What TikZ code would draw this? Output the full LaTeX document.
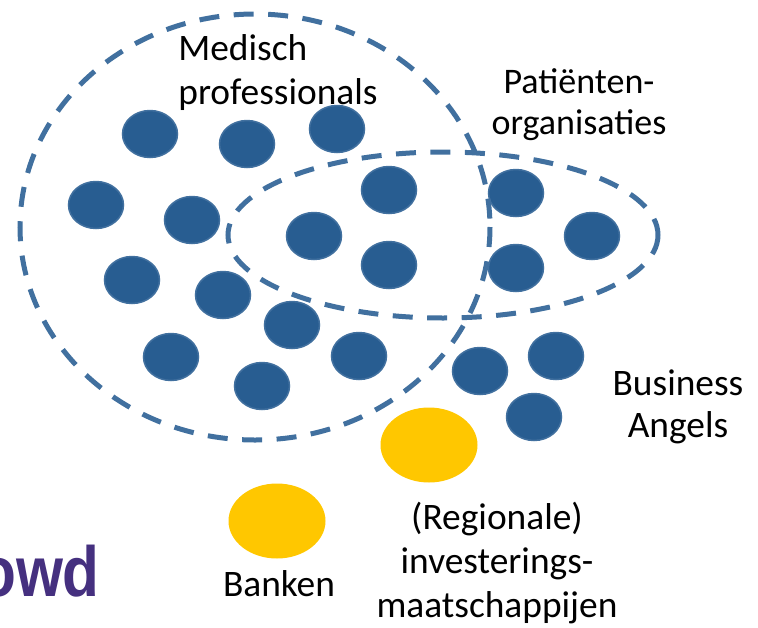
\documentclass[tikz,border=0pt]{standalone}
\usepackage{fontspec}
\setmainfont{Carlito}
\newfontfamily\logofont{Liberation Sans}
\definecolor{dotblue}{HTML}{285D91}
\definecolor{dotedge}{HTML}{41709F}
\definecolor{gold}{HTML}{FFC700}
\definecolor{logopurple}{HTML}{45307F}
\tikzset{
  dotnode/.style={ellipse,draw=dotedge,fill=dotblue,line width=1.5pt,minimum width=55pt,minimum height=47pt,inner sep=0pt},
  goldnode/.style={ellipse,fill=gold,minimum width=97pt,minimum height=75pt,inner sep=0pt},
  ring/.style={draw=dotedge,line width=5pt,dash pattern=on 20pt off 14.5pt},
  label/.style={align=center,font=\fontsize{37.4}{44}\selectfont,text=black,inner sep=0pt}
}
\usetikzlibrary{shapes.geometric}
\begin{document}
\begin{tikzpicture}[x=1pt,y=-1pt]
\useasboundingbox (0,0) rectangle (758,627);
\clip (0,0) rectangle (758,627);
\foreach \n/\x/\y in {a/150/134,b/247/144,c/337/129,d/96/205,e/192/220,f/389/190,g/314/236,h/389/265,i/516/193,j/592/236,k/516/268,l/132/280,m/223/295,n/292/325,o/171/357,p/262/386,q/359/356,r/480/371,s/556/356,t/534/417}
  \node[dotnode] (\n) at (\x,\y) {};
\draw[ring] (255,227) ellipse [x radius=235,y radius=213];
\draw[ring] (443,235) ellipse [x radius=215,y radius=83];
\node[goldnode] (inv) at (429,445) {};
\node[goldnode] (bank) at (277,521) {};
\node[label,align=left] (med) at (278,73) {Medisch\\professionals};
\node[label,font=\fontsize{36}{41}\selectfont] (pat) at (579,105) {Patiënten-\\organisaties};
\node[label,font=\fontsize{37.4}{42}\selectfont] (ang) at (678,407) {Business\\Angels};
\node[label] (bl) at (279,584) {Banken};
\node[label] (rl) at (497,563.5) {(Regionale)\\investerings-\\maatschappijen};
\node[anchor=base east,inner sep=0pt,text=logopurple,xscale=.85] (logo) at (100,596) {\logofont\bfseries\fontsize{71}{71}\selectfont owd};
\end{tikzpicture}
\end{document}
